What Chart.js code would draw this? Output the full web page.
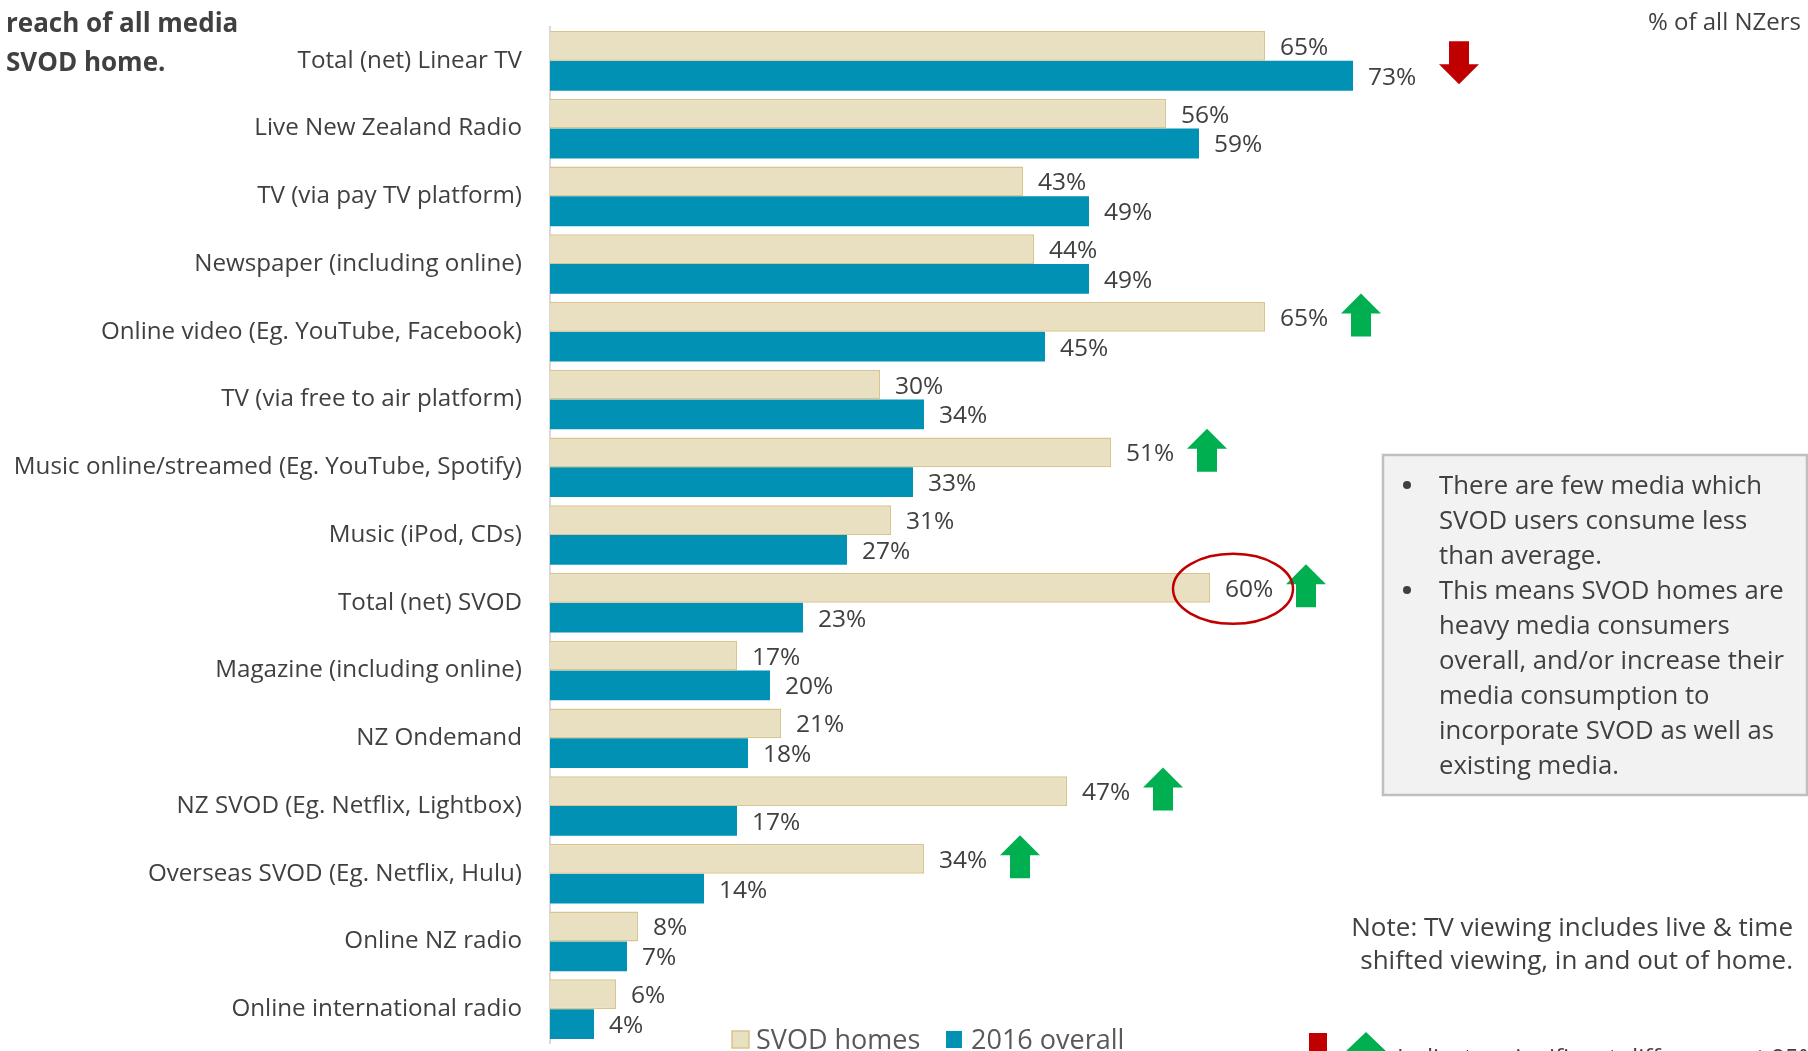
<!DOCTYPE html>
<html>
<head>
<meta charset="utf-8">
<script src="https://cdn.jsdelivr.net/npm/chart.js@4.4.0/dist/chart.umd.min.js"></script>
<style>
  html, body { margin: 0; padding: 0; background: #ffffff; }
  #wrap { position: relative; width: 1808px; height: 1051px; overflow: hidden; }
  canvas { display: block; }
</style>
</head>
<body>
<div id="wrap"><canvas id="c" width="1808" height="1051"></canvas></div>
<script>
// ---------- DATA ----------
const categories = [
  "Total (net) Linear TV",
  "Live New Zealand Radio",
  "TV (via pay TV platform)",
  "Newspaper (including online)",
  "Online video (Eg. YouTube, Facebook)",
  "TV (via free to air platform)",
  "Music online/streamed (Eg. YouTube, Spotify)",
  "Music (iPod, CDs)",
  "Total (net) SVOD",
  "Magazine (including online)",
  "NZ Ondemand",
  "NZ SVOD (Eg. Netflix, Lightbox)",
  "Overseas SVOD (Eg. Netflix, Hulu)",
  "Online NZ radio",
  "Online international radio"
];
const svodHomes   = [65, 56, 43, 44, 65, 30, 51, 31, 60, 17, 21, 47, 34, 8, 6];
const overall2016 = [73, 59, 49, 49, 45, 34, 33, 27, 23, 20, 18, 17, 14, 7, 4];
const seriesNames = ["SVOD homes", "2016 overall"];
// significance markers: 'up' = SVOD homes significantly higher, 'down' = lower
const sigMarkers  = ["down", null, null, null, "up", null, "up", null, "up", null, null, "up", "up", null, null];
const circledCategory = "Total (net) SVOD";

const titleLines = ["reach of all media", "SVOD home."];
const topRightText = "% of all NZers";
const boxBullets = [
  ["There are few media which", "SVOD users consume less", "than average."],
  ["This means SVOD homes are", "heavy media consumers", "overall, and/or increase their", "media consumption to", "incorporate SVOD as well as", "existing media."]
];
const noteLines = ["Note: TV viewing includes live & time", "shifted viewing, in and out of home."];
const sigLegendText = "Indicates significant difference at 95% c.i.";

// ---------- STYLE ----------
const BEIGE = "#E9DFC1", BEIGE_BORDER = "#D8C48E", BLUE = "#0091B5";
const TEXT = "#404040", RED = "#C00000", GREEN = "#00B050";
const FONT = "'Open Sans', 'Noto Sans', sans-serif";

function drawArrow(ctx, cx, cy, dir, color) {
  const w = 40, h = 43, head = 20, shaft = 20;
  ctx.save();
  ctx.fillStyle = color;
  ctx.beginPath();
  const top = cy - h / 2, bot = cy + h / 2;
  if (dir === "up") {
    ctx.moveTo(cx, top);
    ctx.lineTo(cx + w / 2, top + head);
    ctx.lineTo(cx + shaft / 2, top + head);
    ctx.lineTo(cx + shaft / 2, bot);
    ctx.lineTo(cx - shaft / 2, bot);
    ctx.lineTo(cx - shaft / 2, top + head);
    ctx.lineTo(cx - w / 2, top + head);
  } else {
    ctx.moveTo(cx - shaft / 2, top);
    ctx.lineTo(cx + shaft / 2, top);
    ctx.lineTo(cx + shaft / 2, bot - head);
    ctx.lineTo(cx + w / 2, bot - head);
    ctx.lineTo(cx, bot);
    ctx.lineTo(cx - w / 2, bot - head);
    ctx.lineTo(cx - shaft / 2, bot - head);
  }
  ctx.closePath();
  ctx.fill();
  ctx.restore();
}

const overlayPlugin = {
  id: "overlay",
  afterDatasetsDraw(chart) {
    const ctx = chart.ctx;
    const m0 = chart.getDatasetMeta(0), m1 = chart.getDatasetMeta(1);
    ctx.save();
    ctx.font = "24.5px " + FONT;
    ctx.fillStyle = TEXT;
    ctx.textBaseline = "middle";
    ctx.textAlign = "left";
    [m0, m1].forEach((meta, di) => {
      const vals = chart.data.datasets[di].data;
      meta.data.forEach((bar, i) => {
        ctx.fillText(vals[i] + "%", bar.x + 15, bar.y + 2);
      });
    });
    // significance arrows
    sigMarkers.forEach((s, i) => {
      if (s === "up") {
        const b = m0.data[i];
        drawArrow(ctx, b.x + 96, b.y - 2, "up", GREEN);
      } else if (s === "down") {
        const b = m1.data[i];
        drawArrow(ctx, b.x + 106, b.y - 13, "down", RED);
      }
    });
    // circled value
    const ci = categories.indexOf(circledCategory);
    if (ci >= 0) {
      const b = m0.data[ci];
      ctx.strokeStyle = RED;
      ctx.lineWidth = 2.5;
      ctx.beginPath();
      ctx.ellipse(b.x + 23, b.y + 1, 60, 35, 0, 0, Math.PI * 2);
      ctx.stroke();
    }
    ctx.restore();
  },
  afterDraw(chart) {
    const ctx = chart.ctx;
    ctx.save();
    // title
    ctx.fillStyle = TEXT;
    ctx.textAlign = "left";
    ctx.textBaseline = "alphabetic";
    ctx.font = "bold 26px " + FONT;
    ctx.fillText(titleLines[0], 6, 32);
    ctx.fillText(titleLines[1], 6, 71);
    // top right
    ctx.font = "24px " + FONT;
    ctx.textAlign = "right";
    ctx.fillText(topRightText, 1801, 30);
    // box
    ctx.fillStyle = "#F2F2F2";
    ctx.fillRect(1383, 455, 424, 340);
    ctx.strokeStyle = "#BFBFBF";
    ctx.lineWidth = 2.5;
    ctx.strokeRect(1383, 455, 424, 340);
    ctx.fillStyle = TEXT;
    ctx.textAlign = "left";
    ctx.font = "25.7px " + FONT;
    let line = 0;
    boxBullets.forEach(b => {
      b.forEach((t, k) => {
        const y = 494 + line * 35;
        if (k === 0) {
          ctx.beginPath();
          ctx.arc(1407, y - 9, 4, 0, Math.PI * 2);
          ctx.fill();
        }
        ctx.fillText(t, 1439, y);
        line++;
      });
    });
    // note
    ctx.textAlign = "right";
    ctx.font = "26px " + FONT;
    ctx.fillText(noteLines[0], 1793, 936);
    ctx.fillText(noteLines[1], 1793, 969);
    // series legend
    ctx.textAlign = "left";
    ctx.font = "27px " + FONT;
    ctx.fillStyle = BEIGE;
    ctx.fillRect(732, 1031, 17, 17);
    ctx.strokeStyle = BEIGE_BORDER;
    ctx.lineWidth = 1.5;
    ctx.strokeRect(732, 1031, 17, 17);
    ctx.fillStyle = "#595959";
    ctx.fillText(seriesNames[0], 756, 1049);
    ctx.fillStyle = BLUE;
    ctx.fillRect(946, 1031, 16, 17);
    ctx.fillStyle = "#595959";
    ctx.fillText(seriesNames[1], 971, 1049);
    // significance legend
    ctx.fillStyle = RED;
    ctx.fillRect(1309, 1033, 18, 20);
    ctx.fillStyle = GREEN;
    ctx.beginPath();
    ctx.moveTo(1366, 1032);
    ctx.lineTo(1388, 1053);
    ctx.lineTo(1344, 1053);
    ctx.closePath();
    ctx.fill();
    ctx.fillStyle = TEXT;
    ctx.font = "24px " + FONT;
    ctx.fillText(sigLegendText, 1397, 1066);
    ctx.restore();
  }
};

new Chart(document.getElementById("c"), {
  type: "bar",
  data: {
    labels: categories,
    datasets: [
      { label: seriesNames[0], data: svodHomes, backgroundColor: BEIGE, borderColor: BEIGE_BORDER, borderWidth: 1.5 },
      { label: seriesNames[1], data: overall2016, backgroundColor: BLUE, borderWidth: 0 }
    ]
  },
  options: {
    indexAxis: "y",
    responsive: false,
    animation: false,
    datasets: { bar: { categoryPercentage: 0.88, barPercentage: 1.0 } },
    layout: { padding: { top: 27, bottom: 8, left: 0, right: 158 } },
    scales: {
      x: { display: false, min: 0, max: 100 },
      y: {
        grid: { display: false, drawTicks: false },
        border: { display: true, color: "#D9D9D9", width: 2 },
        ticks: { color: TEXT, font: { family: FONT, size: 24.2 }, padding: 28 },
        afterFit(scale) {
          scale.width = 550;
          scale.paddingTop = 0;
          scale.paddingBottom = 0;
        }
      }
    },
    plugins: { legend: { display: false }, tooltip: { enabled: false } }
  },
  plugins: [overlayPlugin]
});
</script>
</body>
</html>
